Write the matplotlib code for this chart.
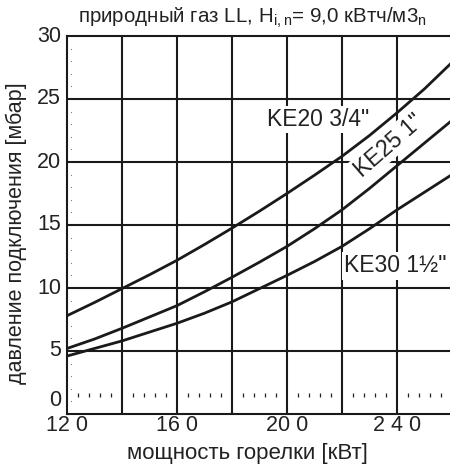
import matplotlib
matplotlib.use("Agg")
import matplotlib.pyplot as plt

plt.rcParams['font.family'] = ['Liberation Sans', 'DejaVu Sans']

# ---- data ----
power = [120, 130, 140, 150, 160, 170, 180, 190, 200, 210, 220, 230, 240, 250, 260]
ke20 = [7.8, 8.85, 9.95, 11.05, 12.2, 13.45, 14.75, 16.1, 17.5, 18.95, 20.45, 22.1, 23.9, 25.8, 27.9]
ke25 = [5.2, 5.95, 6.8, 7.7, 8.6, 9.7, 10.85, 12.05, 13.3, 14.7, 16.2, 17.9, 19.7, 21.5, 23.3]
ke30 = [4.6, 5.2, 5.8, 6.5, 7.2, 8.0, 8.9, 9.95, 11.0, 12.1, 13.3, 14.7, 16.2, 17.6, 19.0]

x_ticks = [120, 160, 200, 240]
x_tick_labels = ["12 0", "16 0", "20 0", "2 4 0"]
x_grid = [140, 160, 180, 200, 220, 240]
y_ticks = [0, 5, 10, 15, 20, 25, 30]
y_tick_labels = ["0", "5", "10", "15", "20", "25", "30"]
minor_x = [b + d for b in range(120, 260, 20) for d in (4, 8, 12, 16)]
minor_y = [v for v in range(1, 30) if v % 5 != 0]

title = "природный газ LL, H$_{\\mathregular{i,n}}$= 9,0 кВтч/м3$_{\\mathregular{n}}$"
xlabel = "мощность горелки [кВт]"
ylabel = "давление подключения [мбар]"

TXT = '#222222'
LINE = '#1a1a1a'

fig = plt.figure(figsize=(4.5, 4.66), dpi=100)
ax = fig.add_axes([67/450, 1 - 414/466, 383/450, (414 - 36)/466])
ax.set_xlim(120, 259.3)
ax.set_ylim(0, 30)

for xv in x_grid:
    ax.axvline(xv, color=LINE, lw=1.5, zorder=1)
for yv in y_ticks[1:-1]:
    ax.axhline(yv, color=LINE, lw=1.5, zorder=1)

ax.vlines(minor_x, 1.35, 1.7, color='#222222', lw=0.9, zorder=1)
ax.scatter([121.3] * len(minor_y), minor_y, s=0.6, color='#666666', zorder=1, linewidths=0)

for series in (ke20, ke25, ke30):
    ax.plot(power, series, color=LINE, lw=2.0, zorder=4, solid_capstyle='butt')

box = dict(facecolor='white', edgecolor='none', pad=1.5)
ax.text(211.5, 23.4, 'KE20 3/4"', fontsize=16.5, ha='center', va='center',
        color=TXT, bbox=box, zorder=3)
ax.text(237.0, 21.3, 'KE25 1"', fontsize=16.5, ha='center', va='center',
        rotation=41, rotation_mode='anchor', color=TXT, bbox=box, zorder=3)
ax.text(239.3, 11.75, 'KE30 1½"', fontsize=16.5, ha='center', va='center',
        color=TXT, bbox=box, zorder=3)

ax.set_xticks(x_ticks)
ax.set_xticklabels(x_tick_labels)
ax.set_yticks(y_ticks)
ax.set_yticklabels([])
ax.tick_params(length=0, labelsize=15.5, colors=TXT, pad=1)

ytrans = ax.get_yaxis_transform()
for val, lab in zip(y_ticks, y_tick_labels):
    ypos = val + (1.1 if val == 0 else 0)
    ax.text(-6/383, ypos, lab, transform=ytrans, ha='right', va='center',
            fontsize=15.5, color=TXT, clip_on=False)

for side in ('left', 'bottom', 'top'):
    ax.spines[side].set_linewidth(1.5)
    ax.spines[side].set_color(LINE)
ax.spines['right'].set_visible(False)

fig.text(252/450, 1 - 18/466, title, ha='center', va='center', fontsize=14.8, color=TXT)
fig.text(247/450, 1 - 453/466, xlabel, ha='center', va='center', fontsize=16, color=TXT)
fig.text(16/450, 1 - 233/466, ylabel, ha='center', va='center', rotation=90, fontsize=15.5, color=TXT)

fig.savefig("out.png", dpi=100)
